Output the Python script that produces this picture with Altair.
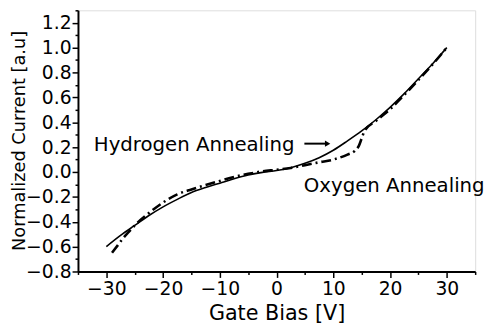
import altair as alt
import pandas as pd

# Hydrogen annealing (solid line)
h_x = [-30, -27.5, -25, -22.5, -20, -17.5, -15, -12.5, -10, -7.5, -5, -2.5, 0,
       2.5, 5, 7.5, 10, 12.5, 15, 17.5, 20, 22.5, 25, 27.5, 30]
h_y = [-0.60, -0.51, -0.43, -0.35, -0.28, -0.22, -0.165, -0.125, -0.09, -0.055,
       -0.025, -0.003, 0.012, 0.035, 0.07, 0.115, 0.175, 0.25, 0.33, 0.42, 0.52,
       0.63, 0.75, 0.87, 1.0]

# Oxygen annealing (dash-dot line)
o_x = [-29, -28, -27, -26, -25, -22.5, -20, -17.5, -15, -12.5, -10, -7.5, -5,
       -2.5, 0, 2.5, 5, 7.5, 10, 12.5, 13.8, 14.5, 15, 15.5, 17.5, 20, 22.5, 25,
       27.5, 30]
o_y = [-0.65, -0.59, -0.53, -0.48, -0.43, -0.33, -0.245, -0.18, -0.14, -0.105,
       -0.072, -0.04, -0.015, 0.005, 0.018, 0.033, 0.055, 0.078, 0.10, 0.14,
       0.17, 0.21, 0.27, 0.33, 0.41, 0.505, 0.62, 0.74, 0.865, 1.0]

x_major = [-30, -20, -10, 0, 10, 20, 30]
x_minor = [-35, -25, -15, -5, 5, 15, 25, 35]
y_major = [-0.8, -0.6, -0.4, -0.2, 0.0, 0.2, 0.4, 0.6, 0.8, 1.0, 1.2]
y_minor = [-0.7, -0.5, -0.3, -0.1, 0.1, 0.3, 0.5, 0.7, 0.9, 1.1, 1.3]

labels = ["Hydrogen Annealing", "Oxygen Annealing"]
label_x = [-32.2, 4.8]
label_y = [0.172, -0.16]
arrow_x = [4.9, 8.6]
arrow_y = [0.228, 0.228]

FONT = "DejaVu Sans"

df_h = pd.DataFrame({"x": h_x, "y": h_y})
df_o = pd.DataFrame({"x": o_x, "y": o_y})
df_t = pd.DataFrame({"x": label_x, "y": label_y, "t": labels})
df_a = pd.DataFrame({"x": [arrow_x[0]], "x2": [arrow_x[1]], "y": [arrow_y[0]]})
df_ah = pd.DataFrame({"x": [arrow_x[1] + 0.4], "y": [arrow_y[1]]})

xs = alt.Scale(domain=[-35, 35], nice=False, zero=False)
ys = alt.Scale(domain=[-0.8, 1.3], nice=False, zero=False)

x_axis_major = alt.Axis(values=x_major, orient="bottom", grid=False, tickSize=6,
                        tickWidth=1.5, tickColor="black", domainColor="black",
                        domainWidth=2, labelFont=FONT, labelFontSize=19,
                        labelColor="black", labelPadding=2, labelFlush=False,
                        title="Gate Bias [V]", titleFont=FONT, titleFontSize=21,
                        titleFontWeight="normal", titleColor="black", titlePadding=5)
y_axis_major = alt.Axis(values=y_major, orient="left", grid=False, tickSize=6,
                        tickWidth=1.5, tickColor="black", domainColor="black",
                        domainWidth=2, labelFont=FONT, labelFontSize=19,
                        labelColor="black", labelPadding=1, labelFlush=False,
                        format=".1f",
                        title="Normalized Current [a.u]", titleFont=FONT,
                        titleFontSize=18, titleFontWeight="normal",
                        titleColor="black", titleX=-59, titleY=132,
                        titleBaseline="middle", titleAlign="center", titleAngle=270)
x_axis_minor = alt.Axis(values=x_minor, orient="bottom", grid=False, tickSize=3,
                        tickWidth=1.5, tickColor="black", domain=False,
                        labels=False, title=None)
y_axis_minor = alt.Axis(values=y_minor, orient="left", grid=False, tickSize=3,
                        tickWidth=1.5, tickColor="black", domain=False,
                        labels=False, title=None)

solid = alt.Chart(df_h).mark_line(color="black", strokeWidth=1.6,
                                  interpolate="monotone").encode(
    x=alt.X("x:Q", scale=xs, axis=x_axis_major),
    y=alt.Y("y:Q", scale=ys, axis=y_axis_major),
)
dashdot = alt.Chart(df_o).mark_line(color="black", strokeWidth=2.6,
                                    strokeDash=[10, 4, 2, 4],
                                    interpolate="monotone").encode(
    x=alt.X("x:Q", scale=xs, axis=x_axis_minor),
    y=alt.Y("y:Q", scale=ys, axis=y_axis_minor),
)
text = alt.Chart(df_t).mark_text(font=FONT, fontSize=20, color="black",
                                 align="left", baseline="alphabetic").encode(
    x=alt.X("x:Q", scale=xs, axis=None),
    y=alt.Y("y:Q", scale=ys, axis=None),
    text="t:N",
)
arrow = alt.Chart(df_a).mark_rule(color="black", strokeWidth=2).encode(
    x=alt.X("x:Q", scale=xs, axis=None),
    x2="x2:Q",
    y=alt.Y("y:Q", scale=ys, axis=None),
)
head = alt.Chart(df_ah).mark_point(shape="triangle-right", filled=True,
                                   color="black", size=40, opacity=1).encode(
    x=alt.X("x:Q", scale=xs, axis=None),
    y=alt.Y("y:Q", scale=ys, axis=None),
)

chart = alt.layer(solid, dashdot, text, arrow, head).resolve_axis(
    x="independent", y="independent"
).properties(
    width=403, height=265, autosize="none",
    padding={"left": 71, "top": 0, "right": 12, "bottom": 56},
).configure_view(stroke=None).configure(background="white")

chart.save("out.html", embed_options={"renderer": "svg", "actions": False})
